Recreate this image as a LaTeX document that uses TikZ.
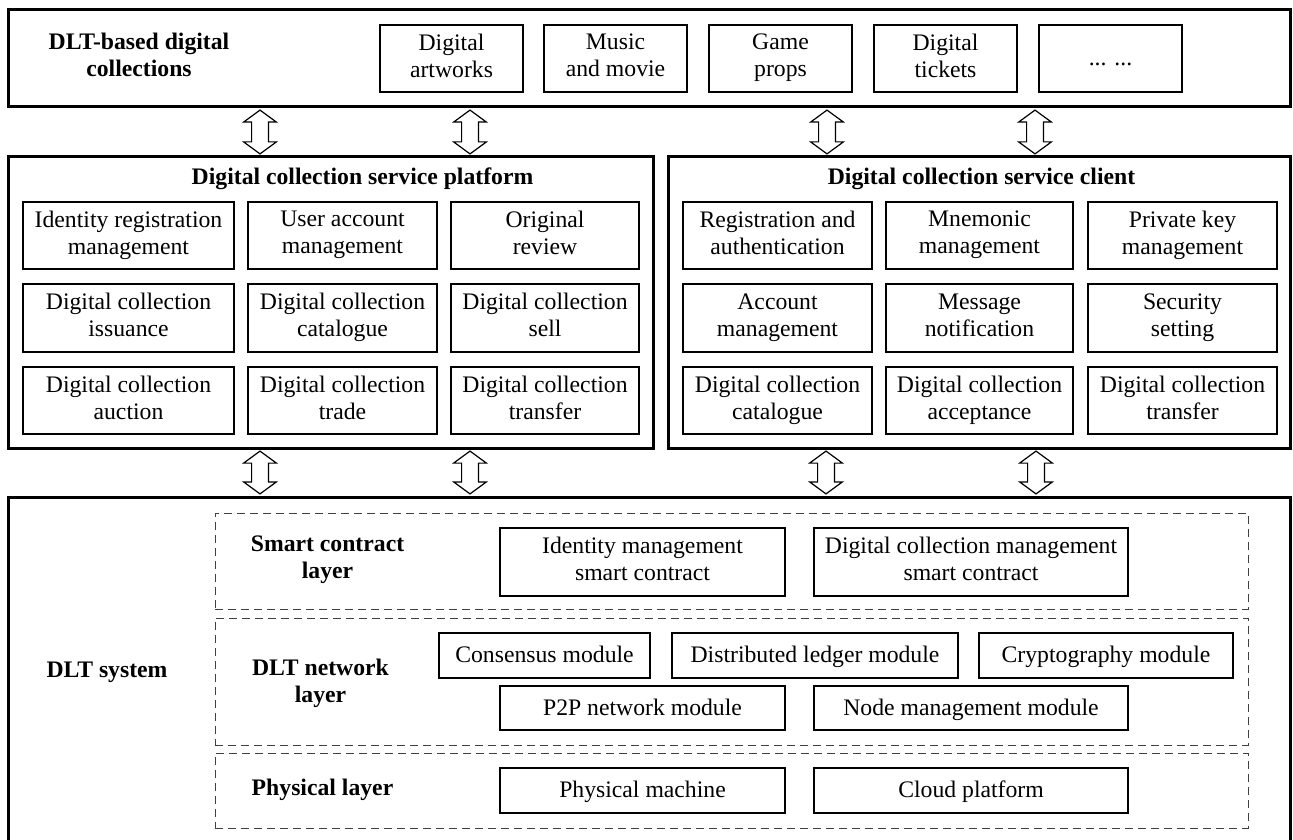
\documentclass[tikz,border=0pt]{standalone}
\usepackage{fontspec}
\setmainfont{Liberation Serif}
\usetikzlibrary{calc}
\newcommand{\topstrut}{\rule{0pt}{10.45pt}}
\newcommand{\botstrut}{\rule[-3.05pt]{0pt}{3.05pt}}
\tikzset{outer/.style = {draw, line width=1.5pt}}
\tikzset{cell/.style = {draw, line width=0.6pt, align=center, inner sep=0pt,
                        execute at begin node=\topstrut, execute at end node=\botstrut}}
\tikzset{layer/.style = {draw, black!75, line width=0.5pt, dash pattern=on 4pt off 2.5pt}}
\tikzset{head/.style = {font=\bfseries\fontsize{11.85}{13.5}\selectfont, align=center,
                        execute at begin node=\topstrut, execute at end node=\botstrut}}
\tikzset{sz/.style 2 args = {minimum width=#1*0.5pt, minimum height=#2*0.5pt}}
\tikzset{fat/.style = {draw, fill=white, line width=0.6pt,
                       to path={let \p1=(\tikztostart), \p2=(\tikztotarget) in
                                (\x1,\y1-0.8pt) -- (\x1+8.2pt,\y1-6.8pt) -- (\x1+4.2pt,\y1-6.8pt)
                                -- (\x1+4.2pt,\y2+6.8pt) -- (\x1+8.2pt,\y2+6.8pt) -- (\x1,\y2+0.8pt)
                                -- (\x1-8.2pt,\y2+6.8pt) -- (\x1-4.2pt,\y2+6.8pt)
                                -- (\x1-4.2pt,\y1-6.8pt) -- (\x1-8.2pt,\y1-6.8pt) -- cycle}}}

\begin{document}
\begin{tikzpicture}[x=0.5pt, y=-0.5pt, every node/.style={font=\fontsize{11.85}{13.5}\selectfont}]
    \useasboundingbox (0,0) rectangle (1293,839);

    % collections
    \node [outer, sz={1282}{97}] (dc) at (649,58.5) {};
    \node [head] (dclabel) at (139,58) {DLT-based digital\\collections};
    \node [cell, sz={143}{67}] (art) at (451.5,58.5) {Digital\\artworks};
    \node [cell, sz={143}{67}] (music) at (615.5,58.5) {Music\\and movie};
    \node [cell, sz={143}{67}] (game) at (780.5,58.5) {Game\\props};
    \node [cell, sz={143}{67}] (ticket) at (945.5,58.5) {Digital\\tickets};
    \node [cell, sz={143}{67}] (more) at (1110.5,58.5) {... ...};

    % platform
    \node [outer, sz={645}{291}] (plat) at (330.5,302.5) {};
    \node [head] (plattitle) at (362.5,177) {Digital collection service platform};
    \node [cell, sz={211}{67}] (idreg) at (128.5,235.5) {Identity registration\\management};
    \node [cell, sz={189}{67}] (useracc) at (342.5,235.5) {User account\\management};
    \node [cell, sz={188}{67}] (review) at (545,235.5) {Original\\review};
    \node [cell, sz={211}{68}] (issue) at (128.5,318) {Digital collection\\issuance};
    \node [cell, sz={189}{68}] (pcat) at (342.5,318) {Digital collection\\catalogue};
    \node [cell, sz={188}{68}] (sell) at (545,318) {Digital collection\\sell};
    \node [cell, sz={211}{67}] (auction) at (128.5,400.5) {Digital collection\\auction};
    \node [cell, sz={189}{67}] (trade) at (342.5,400.5) {Digital collection\\trade};
    \node [cell, sz={188}{67}] (ptrans) at (545,400.5) {Digital collection\\transfer};

    % client
    \node [outer, sz={622}{291}] (client) at (979,302.5) {};
    \node [head] (clienttitle) at (981.5,177) {Digital collection service client};
    \node [cell, sz={189}{67}] (auth) at (777.5,235.5) {Registration and\\authentication};
    \node [cell, sz={187}{67}] (mnem) at (979.5,235.5) {Mnemonic\\management};
    \node [cell, sz={189}{67}] (pkey) at (1182.5,235.5) {Private key\\management};
    \node [cell, sz={189}{68}] (account) at (777.5,318) {Account\\management};
    \node [cell, sz={187}{68}] (msg) at (979.5,318) {Message\\notification};
    \node [cell, sz={189}{68}] (secure) at (1182.5,318) {Security\\setting};
    \node [cell, sz={189}{67}] (ccat) at (777.5,400.5) {Digital collection\\catalogue};
    \node [cell, sz={187}{67}] (accept) at (979.5,400.5) {Digital collection\\acceptance};
    \node [cell, sz={189}{67}] (ctrans) at (1182.5,400.5) {Digital collection\\transfer};

    % DLT system
    \node [outer, sz={1282}{360}] (dlt) at (649,677) {};
    \node [head] (dltlabel) at (107,670) {DLT system};

    \node [layer, sz={1033}{96}] (sc) at (731.5,561) {};
    \node [layer, sz={1033}{127}] (net) at (731.5,681.5) {};
    \node [layer, sz={1033}{75}] (phys) at (731.5,790.5) {};
    \node [head] (sclabel) at (327.5,560) {Smart contract\\layer};
    \node [head] (netlabel) at (320.5,683.5) {DLT network\\layer};
    \node [head] (physlabel) at (322.5,788) {Physical layer};

    \node [cell, sz={285}{68}] (idsc) at (642.5,562) {Identity management\\smart contract};
    \node [cell, sz={314}{68}] (dcsc) at (971,562) {Digital collection management\\smart contract};
    \node [cell, sz={211}{45}] (cons) at (544.5,655.5) {Consensus module};
    \node [cell, sz={286}{45}] (ledger) at (815,655.5) {Distributed ledger module};
    \node [cell, sz={254}{45}] (crypto) at (1106,655.5) {Cryptography module};
    \node [cell, sz={285}{44}] (p2p) at (642.5,708) {P2P network module};
    \node [cell, sz={314}{44}] (nodem) at (971,708) {Node management module};
    \node [cell, sz={285}{45}] (machine) at (642.5,790.5) {Physical machine};
    \node [cell, sz={314}{45}] (cloud) at (971,790.5) {Cloud platform};

    % hollow arrows
    \path [fat] (dc.south -| 260,0) to (plat.north -| 260,0);
    \path [fat] (dc.south -| 470,0) to (plat.north -| 470,0);
    \path [fat] (dc.south -| 827,0) to (client.north -| 827,0);
    \path [fat] (dc.south -| 1035,0) to (client.north -| 1035,0);
    \path [fat] (plat.south -| 260,0) to (dlt.north -| 260,0);
    \path [fat] (plat.south -| 470,0) to (dlt.north -| 470,0);
    \path [fat] (client.south -| 826,0) to (dlt.north -| 826,0);
    \path [fat] (client.south -| 1036,0) to (dlt.north -| 1036,0);
\end{tikzpicture}
\end{document}
